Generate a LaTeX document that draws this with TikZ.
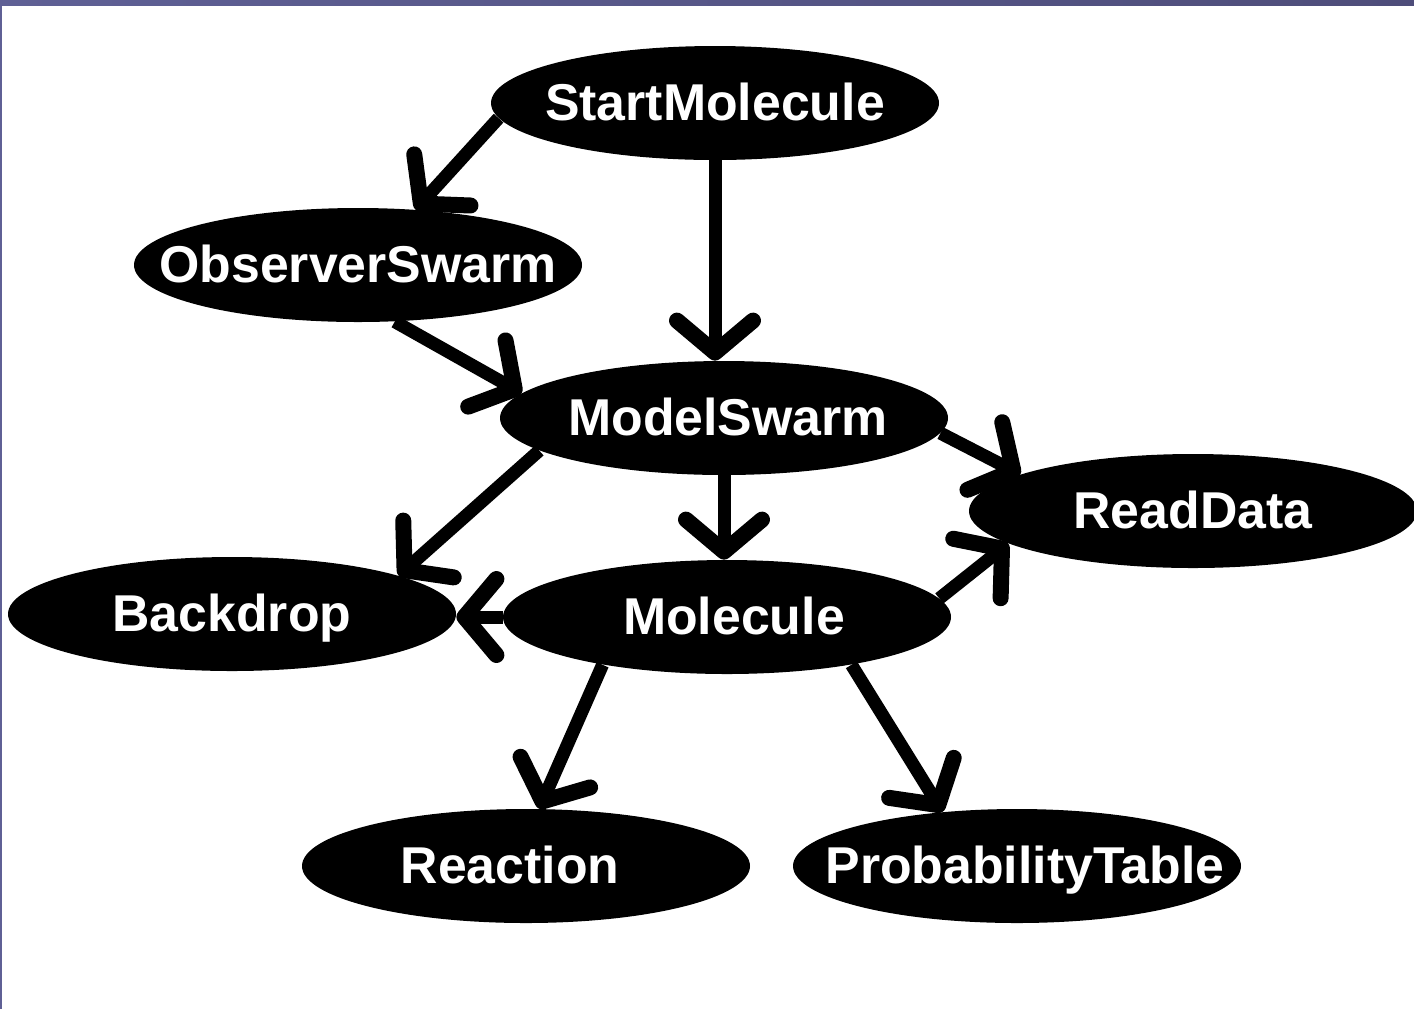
\documentclass[tikz,border=0pt]{standalone}
\usepackage{fontspec}
\setmainfont{Liberation Sans}
\usetikzlibrary{shapes.geometric,arrows.meta}
\definecolor{barleft}{HTML}{5F6095}
\definecolor{barright}{HTML}{4E4D7A}
\newcommand{\elltext}[1]{\makebox[0pt]{\smash{#1}}\vphantom{A}}
\begin{document}
\begin{tikzpicture}[x=0.5pt,y=-0.5pt,
  ell/.style={ellipse, fill=black, inner sep=0pt, minimum width=224pt, minimum height=57pt,
    text=white, font=\bfseries\fontsize{25.9}{30}\selectfont},
  conn/.style={line width=6.5pt, -{Straight Barb[length=16pt,width=38pt,line width=8pt,round]}}]
\fill[white] (0,0) rectangle (1414,1009);
\useasboundingbox (0,0) rectangle (1414,1009);
\shade[left color=barleft, right color=barright] (0,0) rectangle (1414,5);
\fill[barleft] (0,0) rectangle (2,1009);

\node[ell] (start) at (715,103) {\elltext{StartMolecule}};
\node[ell] (obs) at (358,265) {\elltext{ObserverSwarm}};
\node[ell] (model) at (724,418) {\elltext{\hspace*{4pt}ModelSwarm}};
\node[ell] (read) at (1193,511) {\elltext{ReadData}};
\node[ell] (back) at (232,614) {\elltext{Backdrop}};
\node[ell] (mol) at (727,617) {\elltext{\hspace*{7pt}Molecule}};
\node[ell] (react) at (526,866) {\elltext{\hspace*{-16pt}Reaction}};
\node[ell] (prob) at (1017,866) {\elltext{\hspace*{8pt}ProbabilityTable}};

\draw[conn] (start.184.5) -- (obs.44);
\draw[conn] (start.south) -- (start.south |- model.north);
\draw[conn] (obs.303) -- (model.173);
\draw[conn] (model.356) -- (read.168);
\draw[conn] (model.190) -- (back.13);
\draw[conn] (model.south) -- (model.south |- mol.north);
\draw[conn] (mol.west) -- (mol.west -| back.east);
\draw[conn] (mol.5.5) -- (read.190.6);
\draw[conn] (mol.201.8) -- (react.77);
\draw[conn] (mol.339.4) -- (prob.144.7);
\end{tikzpicture}
\end{document}
